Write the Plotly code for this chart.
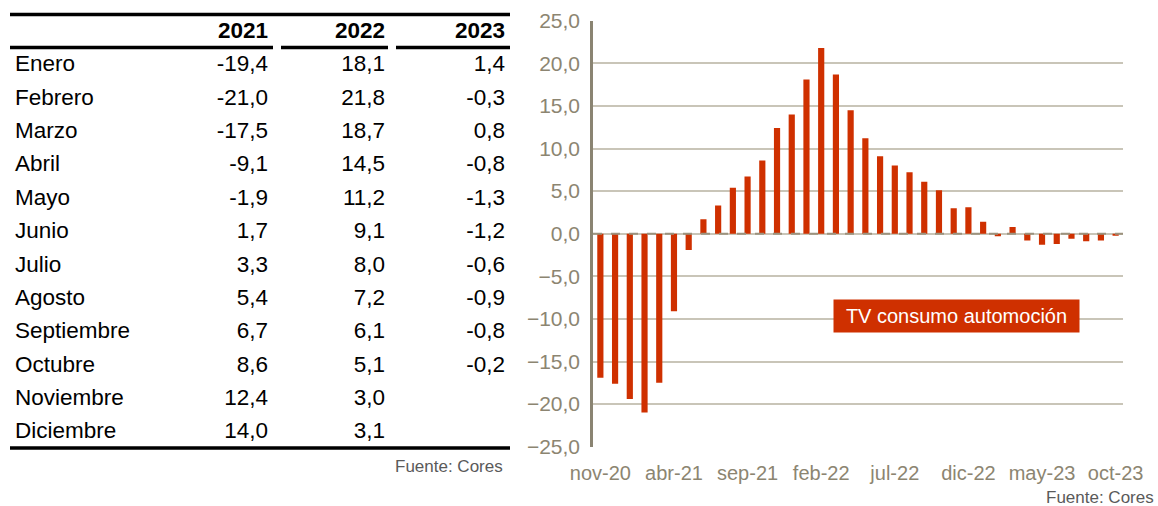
import plotly.graph_objects as go

# datos de la tabla (tasa de variación, %)
meses = ['Enero', 'Febrero', 'Marzo', 'Abril', 'Mayo', 'Junio', 'Julio',
         'Agosto', 'Septiembre', 'Octubre', 'Noviembre', 'Diciembre']
anios = ['2021', '2022', '2023']
tv_2021 = [-19.4, -21.0, -17.5, -9.1, -1.9, 1.7, 3.3, 5.4, 6.7, 8.6, 12.4, 14.0]
tv_2022 = [18.1, 21.8, 18.7, 14.5, 11.2, 9.1, 8.0, 7.2, 6.1, 5.1, 3.0, 3.1]
tv_2023 = [1.4, -0.3, 0.8, -0.8, -1.3, -1.2, -0.6, -0.9, -0.8, -0.2]
tv_2020 = [-16.9, -17.6]  # nov, dic

fechas = ['nov-20', 'dic-20',
          'ene-21', 'feb-21', 'mar-21', 'abr-21', 'may-21', 'jun-21',
          'jul-21', 'ago-21', 'sep-21', 'oct-21', 'nov-21', 'dic-21',
          'ene-22', 'feb-22', 'mar-22', 'abr-22', 'may-22', 'jun-22',
          'jul-22', 'ago-22', 'sep-22', 'oct-22', 'nov-22', 'dic-22',
          'ene-23', 'feb-23', 'mar-23', 'abr-23', 'may-23', 'jun-23',
          'jul-23', 'ago-23', 'sep-23', 'oct-23']
etiquetas_x = ['nov-20', 'abr-21', 'sep-21', 'feb-22', 'jul-22', 'dic-22',
               'may-23', 'oct-23']

serie = tv_2020 + tv_2021 + tv_2022 + tv_2023

FONT = 'Liberation Sans, Arial, sans-serif'
ROJO = '#CF3000'
GRIS_TXT = '#8C8571'
W, H = 1158, 506


def px(x):
    return x / W


def py(y):
    return 1 - y / H


def fmt(v):
    return f'{v:.1f}'.replace('.', ',')


fig = go.Figure()

# ---- gráfico de barras ----
fig.add_trace(go.Bar(
    x=fechas, y=serie,
    marker=dict(color=ROJO, line=dict(width=0)),
    xaxis='x', yaxis='y',
    showlegend=False,
))

# ---- tabla (texto sobre ejes ocultos) ----
filas = ['cab'] + meses
col_x = {'mes': 5, '2021': 258, '2022': 375, '2023': 495}
TAM = 22.5

fig.add_trace(go.Scatter(
    x=[col_x['mes']] * len(meses), y=meses,
    mode='text', text=meses, textposition='middle right',
    textfont=dict(family=FONT, size=TAM, color='black'),
    xaxis='x2', yaxis='y2', showlegend=False, hoverinfo='skip',
))
fig.add_trace(go.Scatter(
    x=[col_x[a] for a in anios], y=['cab'] * 3,
    mode='text', text=['<b>%s</b>' % a for a in anios],
    textposition='middle left',
    textfont=dict(family=FONT, size=TAM, color='black'),
    xaxis='x2', yaxis='y2', showlegend=False, hoverinfo='skip',
))
for anio, valores in zip(anios, [tv_2021, tv_2022, tv_2023]):
    fig.add_trace(go.Scatter(
        x=[col_x[anio]] * len(valores), y=meses[:len(valores)],
        mode='text', text=[fmt(v) for v in valores],
        textposition='middle left',
        textfont=dict(family=FONT, size=TAM, color='black'),
        xaxis='x2', yaxis='y2', showlegend=False, hoverinfo='skip',
    ))

# líneas de la tabla
lineas = [
    (0, 1, 14.5), (0, 0.526, 47.5), (0.542, 0.756, 47.5),
    (0.772, 1, 47.5), (0, 1, 448),
]
for x0, x1, yy in lineas:
    fig.add_shape(type='line', xref='x2 domain', yref='paper',
                  x0=x0, x1=x1, y0=py(yy), y1=py(yy),
                  line=dict(color='black', width=3.5))

# línea de cero discontinua
fig.add_shape(type='line', xref='x domain', yref='y', x0=0, x1=1, y0=0, y1=0,
              line=dict(color='#9C927E', width=2, dash='dash'), layer='above')

fig.update_layout(
    width=W, height=H,
    margin=dict(l=0, r=0, t=0, b=0),
    paper_bgcolor='white', plot_bgcolor='white',
    separators=',.',
    font=dict(family=FONT),
    bargap=0.58,
    xaxis=dict(
        domain=[px(593), px(1123)], type='category',
        categoryorder='array', categoryarray=fechas,
        range=[-0.5, len(fechas) - 0.5],
        tickvals=etiquetas_x, ticktext=etiquetas_x,
        tickfont=dict(size=20, color=GRIS_TXT), ticks='',
        showgrid=False, showline=False, zeroline=False,
        ticklabelstandoff=12, automargin=False, fixedrange=True,
    ),
    yaxis=dict(
        domain=[py(446.7), py(20.7)], range=[-25, 25], dtick=5,
        tickformat='.1f', tickfont=dict(size=21, color=GRIS_TXT),
        showgrid=True, gridcolor='#C9C5B8', gridwidth=1.6,
        showline=True, linecolor='#8A8472', linewidth=2.5,
        zeroline=False, ticks='', ticklabelstandoff=6,
        automargin=False, fixedrange=True,
    ),
    xaxis2=dict(
        domain=[px(10), px(510)], range=[0, 500], visible=False,
        fixedrange=True,
    ),
    yaxis2=dict(
        domain=[py(449.5), py(15.5)], type='category',
        categoryorder='array', categoryarray=filas,
        range=[len(filas) - 0.5, -0.5], visible=False, fixedrange=True,
    ),
    annotations=[
        dict(text='TV consumo automoción', xref='paper', yref='paper',
             x=px(956.5), y=py(316), xanchor='center', yanchor='middle',
             showarrow=False,
             font=dict(size=20, color='white', family=FONT),
             bgcolor=ROJO, width=237, height=24, borderpad=4),
        dict(text='Fuente: Cores', xref='paper', yref='paper',
             x=px(505), y=py(466), xanchor='right', yanchor='middle',
             showarrow=False, font=dict(size=17, color='#5A5A5A', family=FONT)),
        dict(text='Fuente: Cores', xref='paper', yref='paper',
             x=px(1156), y=py(497), xanchor='right', yanchor='middle',
             showarrow=False, font=dict(size=17, color='#5A5A5A', family=FONT)),
    ],
)

# sin el margen por defecto del body, para que la figura ocupe toda la ventana
fig.write_html('out.html', config={'displayModeBar': False},
               post_script="document.body.style.margin='0px';")
